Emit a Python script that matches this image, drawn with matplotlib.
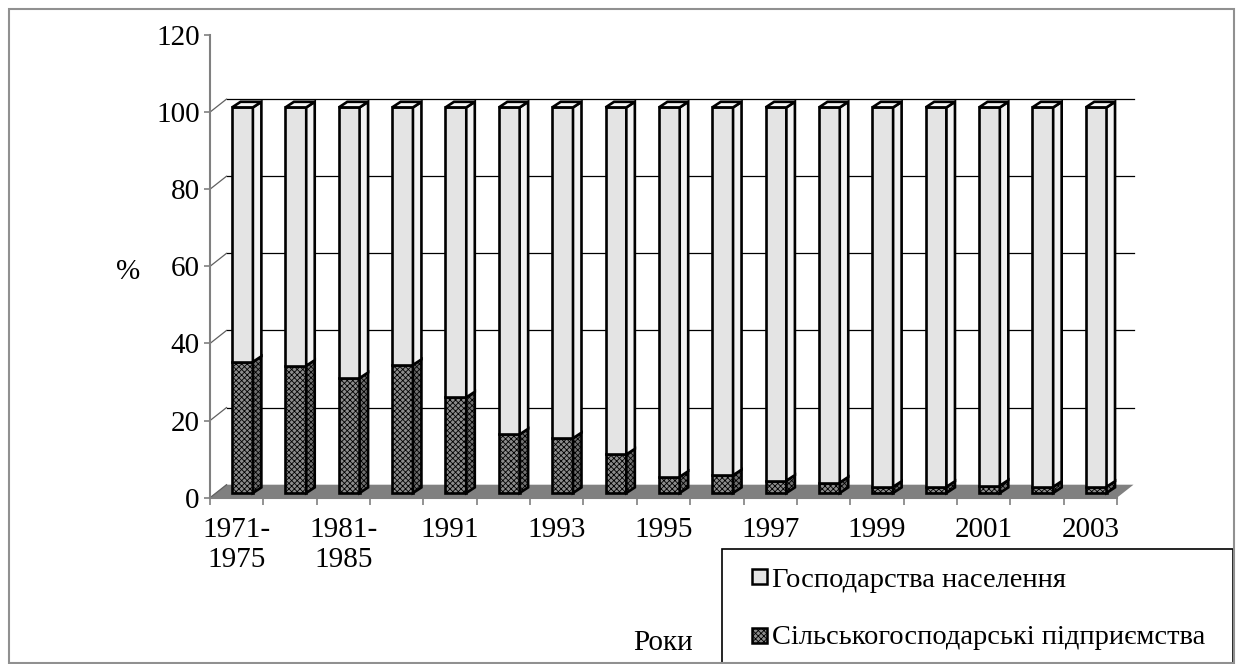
import matplotlib
matplotlib.use('Agg')
import matplotlib.pyplot as plt
import matplotlib.transforms as mtransforms
from matplotlib.patches import Polygon, Rectangle
from matplotlib.lines import Line2D
import numpy as np

# ---------------- data ----------------
categories = ['1971-\n1975', '1976-\n1980', '1981-\n1985', '1986-\n1990',
              '1991', '1992', '1993', '1994', '1995', '1996', '1997',
              '1998', '1999', '2000', '2001', '2002', '2003']
enterprises = [34.0, 33.0, 29.8, 33.2, 24.8, 15.2, 14.2, 10.0, 4.2, 4.6,
               3.2, 2.7, 1.6, 1.6, 1.9, 1.6, 1.6]
households = [100 - v for v in enterprises]
series_names = ['Господарства населення', 'Сільськогосподарські підприємства']
y_ticks = [0, 20, 40, 60, 80, 100, 120]
x_label = 'Роки'
y_label = '%'

# ---------------- style ----------------
plt.rcParams['font.family'] = ['Liberation Serif', 'DejaVu Serif']
plt.rcParams['hatch.linewidth'] = 0.6

W, H, DPI = 1237, 664, 100
fig = plt.figure(figsize=(W / DPI, H / DPI), dpi=DPI)
ax = fig.add_axes([210 / W, 1 - 497.7 / H, (1117 - 210) / W, (497.7 - 35) / H])
ax.set_facecolor('none')

n = len(categories)
xs = np.arange(n)
ax.set_xlim(-0.5, n - 0.5)
ax.set_ylim(0, 120)
ax.set_autoscale_on(False)

light = '#e4e4e4'
light_side = '#f2f2f2'
dark = '#8c8c8c'
dark_side = '#707070'
gray = '#808080'
lw_bar = 1.9
hatch_dark = 'xxxxxx'

# offsets (pixels) for pseudo 3D
front_tr = ax.transData + mtransforms.Affine2D().translate(5.8, 4.7)
back_tr = ax.transData + mtransforms.Affine2D().translate(16.5, 13.0)
DX, DY = 8.5, 5.6
ident = mtransforms.IdentityTransform()

# floor
fl = [ax.transData.transform((-0.5, 0)), ax.transData.transform((n - 0.5, 0)),
      back_tr.transform((n - 0.5, 0)), back_tr.transform((-0.5, 0))]
ax.add_patch(Polygon(fl, closed=True, facecolor=gray, edgecolor='none',
                     transform=ident, clip_on=False, zorder=1))

# back wall grid lines and connectors
for v in y_ticks:
    if v == 120:
        continue
    p0 = ax.transData.transform((-0.5, v))
    p1 = back_tr.transform((-0.5, v))
    ax.add_line(Line2D([p0[0], p1[0]], [p0[1], p1[1]], color='#606060', lw=0.9,
                       transform=ident, clip_on=False, zorder=1.5))
    if v > 0:
        q = back_tr.transform((n - 0.5, v))
        ax.add_line(Line2D([p1[0], q[0]], [p1[1], q[1]], color='black', lw=0.9,
                           transform=ident, clip_on=False, zorder=1.5))

# bars (front faces)
bw = 0.39
ax.bar(xs, enterprises, width=bw, color=dark, hatch=hatch_dark, edgecolor='black',
       linewidth=lw_bar, transform=front_tr, zorder=3)
ax.bar(xs, households, width=bw, bottom=enterprises, color=light, edgecolor='black',
       linewidth=lw_bar, transform=front_tr, zorder=3)

# side and top faces
for i in range(n):
    xr = i + bw / 2
    xl = i - bw / 2
    segs = [(0, enterprises[i], dark_side, hatch_dark),
            (enterprises[i], enterprises[i] + households[i], light_side, None)]
    for y0, y1, c, h in segs:
        a = front_tr.transform((xr, y0))
        b = front_tr.transform((xr, y1))
        pts = [a, b, (b[0] + DX, b[1] + DY), (a[0] + DX, a[1] + DY)]
        ax.add_patch(Polygon(pts, closed=True, facecolor=c, edgecolor='black',
                             hatch=h, linewidth=lw_bar, joinstyle='miter',
                             transform=ident, clip_on=False, zorder=3.2))
    top = enterprises[i] + households[i]
    a = front_tr.transform((xl, top))
    b = front_tr.transform((xr, top))
    pts = [a, b, (b[0] + DX, b[1] + DY), (a[0] + DX, a[1] + DY)]
    ax.add_patch(Polygon(pts, closed=True, facecolor='#f6f6f6', edgecolor='black',
                         linewidth=lw_bar, joinstyle='miter',
                         transform=ident, clip_on=False, zorder=3.2))

# axes styling
for s in ['top', 'right']:
    ax.spines[s].set_visible(False)
for s in ['left', 'bottom']:
    ax.spines[s].set_color(gray)
    ax.spines[s].set_linewidth(1.5)
ax.spines['bottom'].set_zorder(2)

ax.set_yticks(y_ticks)
ax.set_yticklabels([str(v) for v in y_ticks], fontsize=21)
ax.tick_params(axis='y', length=4.5, width=1.2, color=gray, pad=3)

ax.set_xticks(np.arange(n + 1) - 0.5)
ax.set_xticklabels([])
ax.tick_params(axis='x', which='major', length=5, width=1.2, color=gray)
ax.set_xticks(xs, minor=True)
ax.set_xticklabels([c if i % 2 == 0 else '' for i, c in enumerate(categories)],
                   minor=True, fontsize=21, linespacing=1.2)
ax.tick_params(axis='x', which='minor', length=0, pad=14)

fig.text(128 / W, 1 - 272 / H, y_label, fontsize=21, ha='center', va='center')
fig.text(663 / W, 1 - 650 / H, x_label, fontsize=21, ha='center', va='baseline')

# legend (drawn as a framed key)
fig.patches.append(Rectangle((722 / W, 1 - 663 / H), (1233 - 722) / W, (663 - 549) / H,
                             transform=fig.transFigure, facecolor='white',
                             edgecolor='black', linewidth=1.2, zorder=5))
leg_items = [(series_names[0], light, None, 569, 587),
             (series_names[1], dark, hatch_dark, 628, 644)]
for name, fc, h, ytop, ybase in leg_items:
    fig.patches.append(Rectangle((752 / W, 1 - (ytop + 15) / H), 15 / W, 15 / H,
                                 transform=fig.transFigure, facecolor=fc, hatch=h,
                                 edgecolor='black', linewidth=1.8, zorder=6))
    fig.text(772 / W, 1 - ybase / H, name, fontsize=20.5, ha='left',
             va='baseline', zorder=6)

# outer border
fig.patches.append(Rectangle((9 / W, 1 - 663 / H), (1234 - 9) / W, (663 - 9) / H,
                             transform=fig.transFigure, fill=False,
                             edgecolor='#909090', linewidth=1.5, zorder=7))

fig.savefig('out.png', dpi=DPI)
